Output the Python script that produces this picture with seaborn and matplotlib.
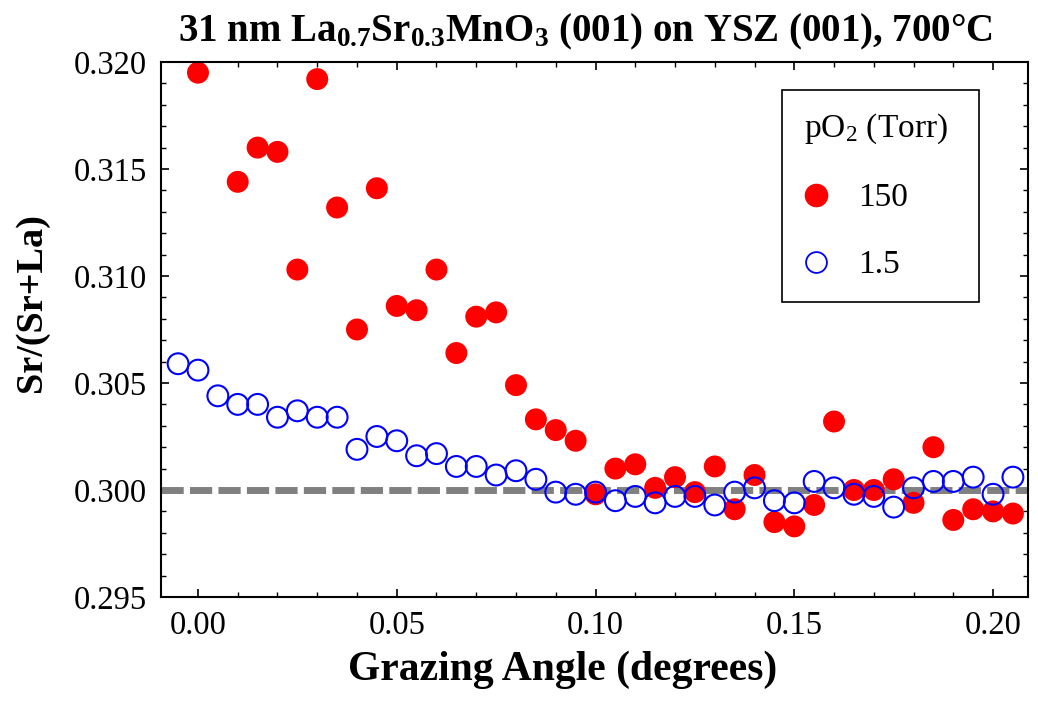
import numpy as np
import pandas as pd
import matplotlib
matplotlib.use("Agg")
import matplotlib.pyplot as plt
import seaborn as sns
from matplotlib.lines import Line2D
from matplotlib.ticker import MultipleLocator, FormatStrFormatter

# ---- data ----
x_150 = [0.000, 0.010, 0.015, 0.020, 0.025, 0.030, 0.035, 0.040, 0.045, 0.050,
         0.055, 0.060, 0.065, 0.070, 0.075, 0.080, 0.085, 0.090, 0.095, 0.100,
         0.105, 0.110, 0.115, 0.120, 0.125, 0.130, 0.135, 0.140, 0.145, 0.150,
         0.155, 0.160, 0.165, 0.170, 0.175, 0.180, 0.185, 0.190, 0.195, 0.200,
         0.205]
y_150 = [0.3195, 0.3144, 0.3160, 0.3158, 0.3103, 0.3192, 0.3132, 0.3075, 0.3141, 0.3086,
         0.3084, 0.3103, 0.3064, 0.3081, 0.3083, 0.3049, 0.3033, 0.3028, 0.3023, 0.2998,
         0.3010, 0.3012, 0.3001, 0.3006, 0.2999, 0.3011, 0.2991, 0.3007, 0.2985, 0.2983,
         0.2993, 0.3032, 0.3000, 0.3000, 0.3005, 0.2994, 0.3020, 0.2986, 0.2991, 0.2990,
         0.2989]

x_1p5 = [-0.005, 0.000, 0.005, 0.010, 0.015, 0.020, 0.025, 0.030, 0.035, 0.040,
         0.045, 0.050, 0.055, 0.060, 0.065, 0.070, 0.075, 0.080, 0.085, 0.090,
         0.095, 0.100, 0.105, 0.110, 0.115, 0.120, 0.125, 0.130, 0.135, 0.140,
         0.145, 0.150, 0.155, 0.160, 0.165, 0.170, 0.175, 0.180, 0.185, 0.190,
         0.195, 0.200, 0.205]
y_1p5 = [0.3059, 0.3056, 0.3044, 0.3040, 0.3040, 0.3034, 0.3037, 0.3034, 0.3034, 0.3019,
         0.3025, 0.3023, 0.3016, 0.3017, 0.3011, 0.3011, 0.3007, 0.3009, 0.3005, 0.2999,
         0.2998, 0.2999, 0.2995, 0.2997, 0.2994, 0.2997, 0.2997, 0.2993, 0.2999, 0.3001,
         0.2995, 0.2994, 0.3004, 0.3001, 0.2998, 0.2997, 0.2992, 0.3001, 0.3004, 0.3004,
         0.3006, 0.2998, 0.3006]

ref_level = 0.300
legend_labels = ["150", "1.5"]

sns.set_theme(style="white")
plt.rcParams["font.family"] = ["Liberation Serif", "DejaVu Serif"]
plt.rcParams["mathtext.fontset"] = "custom"
plt.rcParams["mathtext.rm"] = "Liberation Serif"
plt.rcParams["mathtext.it"] = "Liberation Serif:italic"
plt.rcParams["mathtext.bf"] = "Liberation Serif:bold"
for k in ["text.color", "axes.labelcolor", "xtick.color", "ytick.color"]:
    plt.rcParams[k] = "black"

fig = plt.figure(figsize=(10.38, 7.06), dpi=100)
ax = fig.add_axes([0.1551, 0.1544, 0.8353, 0.7578])

ax.axhline(ref_level, color="#808080", lw=5, dashes=(3.2, 0.9), zorder=1)

df150 = pd.DataFrame({"x": x_150, "y": y_150})
df15 = pd.DataFrame({"x": x_1p5, "y": y_1p5})

sns.scatterplot(data=df150, x="x", y="y", ax=ax, marker="o", s=250,
                color="#ff0000", edgecolor="none", linewidth=0, zorder=2)
sns.scatterplot(data=df15, x="x", y="y", ax=ax, marker="o", s=225,
                facecolor="none", edgecolor="#0000ff", linewidth=1.5, zorder=3)

ax.set_xlim(-0.0093, 0.2088)
ax.set_ylim(0.295, 0.320)
ax.xaxis.set_major_locator(MultipleLocator(0.05))
ax.xaxis.set_minor_locator(MultipleLocator(0.01))
ax.yaxis.set_major_locator(MultipleLocator(0.005))
ax.yaxis.set_minor_locator(MultipleLocator(0.001))
ax.xaxis.set_major_formatter(FormatStrFormatter("%.2f"))
ax.yaxis.set_major_formatter(FormatStrFormatter("%.3f"))

ax.tick_params(which="both", direction="in", top=True, right=True,
               bottom=True, left=True, color="black")
ax.tick_params(which="major", length=6, width=1.2, labelsize=23.5, pad=10)
ax.tick_params(which="minor", length=3.5, width=1.0)
for sp in ax.spines.values():
    sp.set_color("black")
    sp.set_linewidth(1.5)

ax.set_xlabel("Grazing Angle (degrees)", fontsize=30, fontweight="bold")
ax.xaxis.set_label_coords(0.4637, -0.100)
ax.set_ylabel("Sr/(Sr+La)", fontsize=27.5, fontweight="bold")
ax.yaxis.set_label_coords(-0.129, 0.5495)
ax.set_title(r"31 nm La$_{\mathbf{0.7}}$Sr$_{\mathbf{0.3}}$MnO$_{\mathbf{3}}$ (001) on YSZ (001), 700°C",
             fontsize=28, fontweight="bold", pad=15, x=0.489)

handles = [
    Line2D([], [], marker="o", linestyle="none", markersize=16,
           markerfacecolor="#ff0000", markeredgecolor="#ff0000"),
    Line2D([], [], marker="o", linestyle="none", markersize=15,
           markerfacecolor="none", markeredgecolor="#0000ff", markeredgewidth=1.3),
]
leg = ax.legend(handles, legend_labels, title="pO$_2$ (Torr)  ", loc="upper right",
                bbox_to_anchor=(0.9435, 0.9477), borderaxespad=0, fontsize=24,
                title_fontsize=24, frameon=True, fancybox=False, framealpha=1,
                edgecolor="black", labelspacing=1.1, handletextpad=0.9,
                borderpad=0.65, handlelength=0.75)
leg.get_frame().set_linewidth(1.2)
leg._legend_box.align = "left"

fig.savefig("out.png", dpi=100)
